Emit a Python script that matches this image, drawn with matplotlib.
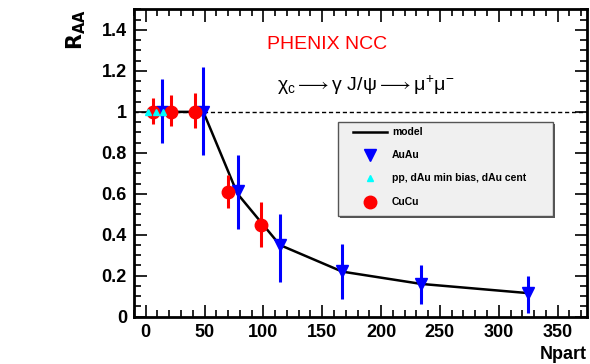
import matplotlib
matplotlib.use('Agg')
import matplotlib.pyplot as plt
from matplotlib.ticker import MultipleLocator
from matplotlib.patches import Rectangle
from matplotlib.lines import Line2D

plt.rcParams['font.family'] = ['Liberation Sans', 'DejaVu Sans']
plt.rcParams['mathtext.fontset'] = 'custom'
plt.rcParams['mathtext.rm'] = 'Liberation Sans'
plt.rcParams['mathtext.it'] = 'Liberation Sans'

# AuAu (blue down triangles)
auau_x = [14, 49, 78, 114, 167, 234, 325]
auau_y = [1.0, 1.0, 0.615, 0.35, 0.225, 0.16, 0.115]
auau_lo = [0.15, 0.21, 0.185, 0.18, 0.14, 0.10, 0.095]
auau_hi = [0.16, 0.22, 0.175, 0.15, 0.13, 0.09, 0.085]

# CuCu (red circles)
cucu_x = [6.5, 21.5, 42, 70, 98]
cucu_y = [1.0, 1.0, 1.0, 0.61, 0.45]
cucu_lo = [0.06, 0.07, 0.08, 0.08, 0.11]
cucu_hi = [0.07, 0.08, 0.09, 0.08, 0.11]

# pp, dAu (cyan triangles)
pp_x = [2, 8.5, 15]
pp_y = [1.0, 1.0, 1.0]

# model curve
model_x = [2, 14, 49, 78, 114, 167, 234, 325]
model_y = [1.0, 1.0, 1.0, 0.6, 0.35, 0.22, 0.16, 0.115]

fig = plt.figure(figsize=(5.9, 3.64), dpi=100)
ax = fig.add_axes([0.227, 0.130, 0.768, 0.844])

ax.axhline(1.0, color='black', ls=(0, (3, 2)), lw=1.0, zorder=1)
ax.plot(model_x, model_y, color='black', lw=1.8, zorder=2)

ax.errorbar(auau_x, auau_y, yerr=[auau_lo, auau_hi], fmt='v', color='blue',
            ms=9, elinewidth=2.2, capsize=0, zorder=3)
ax.errorbar(cucu_x, cucu_y, yerr=[cucu_lo, cucu_hi], fmt='o', color='red',
            ms=9, elinewidth=2.2, capsize=0, zorder=4)
ax.plot(pp_x, pp_y, '^', color='cyan', ms=5, ls='none', zorder=5)

ax.set_xlim(-10, 375)
ax.set_ylim(0, 1.5)
ax.xaxis.set_major_locator(MultipleLocator(50))
ax.xaxis.set_minor_locator(MultipleLocator(10))
ax.yaxis.set_major_locator(MultipleLocator(0.2))
ax.yaxis.set_minor_locator(MultipleLocator(0.05))
ax.tick_params(which='both', direction='in', top=True, right=True, width=1.2)
ax.tick_params(which='major', length=9, labelsize=13, pad=5)
ax.tick_params(which='minor', length=5)
ax.set_yticks([0, 0.2, 0.4, 0.6, 0.8, 1.0, 1.2, 1.4])
ax.set_yticklabels(['0', '0.2', '0.4', '0.6', '0.8', '1', '1.2', '1.4'])
for lab in ax.get_xticklabels() + ax.get_yticklabels():
    lab.set_fontweight('bold')
for s in ax.spines.values():
    s.set_linewidth(2)

fig.text(0.995, 0.004, 'Npart', ha='right', va='bottom', fontsize=13, fontweight='bold')
fig.text(0.13, 0.975, r'$\mathbf{R_{AA}}$', rotation=90, ha='center', va='top', fontsize=15)

fig.text(0.555, 0.877, 'PHENIX NCC', color='red', fontsize=14, ha='center', va='center')
fig.text(0.621, 0.765, r'$\chi_{c} \longrightarrow \gamma\ $J/$\psi \longrightarrow \mu^{+}\mu^{-}$',
         fontsize=14, ha='center', va='center')

# legend box (ROOT style)
lx0, ly0, lw, lh = 0.573, 0.407, 0.364, 0.258
fig.patches.append(Rectangle((lx0 + 0.003, ly0 - 0.005), lw, lh, transform=fig.transFigure,
                             facecolor='#555555', edgecolor='none', zorder=8))
fig.patches.append(Rectangle((lx0, ly0), lw, lh, transform=fig.transFigure,
                             facecolor='#f0f0f0', edgecolor='#555555', lw=1, zorder=9))
rows = [0.637, 0.574, 0.51, 0.446]
sym_x = 0.627
fig.lines.append(Line2D([0.598, 0.656], [rows[0], rows[0]], transform=fig.transFigure,
                        color='black', lw=1.8, zorder=10))
fig.lines.append(Line2D([sym_x], [rows[1]], transform=fig.transFigure, marker='v',
                        color='blue', ms=9, zorder=10))
fig.lines.append(Line2D([sym_x], [rows[2]], transform=fig.transFigure, marker='^',
                        color='cyan', ms=5, zorder=10))
fig.lines.append(Line2D([sym_x], [rows[3]], transform=fig.transFigure, marker='o',
                        color='red', ms=9, zorder=10))
labels = ['model', 'AuAu', 'pp, dAu min bias, dAu cent', 'CuCu']
for yy, t in zip(rows, labels):
    fig.text(0.664, yy, t, fontsize=7.5, fontweight='bold', va='center', zorder=11)

fig.savefig('out.png', dpi=100)
